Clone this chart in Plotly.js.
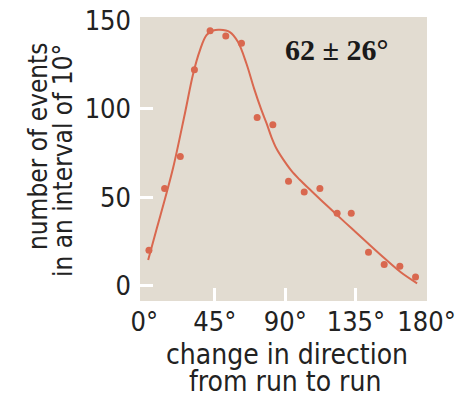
<!DOCTYPE html>
<html>
<head>
<meta charset="utf-8">
<script src="https://cdn.plot.ly/plotly-3.0.1.min.js"></script>
<style>html,body{margin:0;padding:0;background:#fff;}#chart{width:472px;height:397px;}</style>
</head>
<body>
<div id="chart"></div>
<script>
// observed counts per 10° interval
const pointAngles = [3, 13, 23, 32, 42, 52, 62, 72, 82, 92, 102, 112, 123, 132, 143, 153, 163, 173];
const pointCounts = [20, 55, 73, 122, 144, 141, 137, 95, 91, 59, 53, 55, 41, 41, 19, 12, 11, 5];
// fitted curve
const curveAngles = [2.5, 7.9, 13.2, 18.5, 25.9, 31.2, 35.5, 39.7, 44, 48.2, 54.6, 59.8, 65.2, 70, 74.7, 77.9, 81.1, 84.3, 88.5, 93.8, 99, 106.6, 114, 121.4, 132.0, 142.6, 153.2, 163.8, 174.0];
const curveCounts = [14.5, 32.0, 49.0, 66.9, 97.2, 119.8, 133.0, 141.5, 144.2, 144.6, 143.3, 137.7, 125.4, 111.5, 99.3, 92, 84, 77.5, 71.5, 65, 60, 53.5, 47.3, 41.2, 32.6, 24.0, 15.5, 7.5, 1.4];
// ticks
const xTickMarks = [45, 90, 135];
const xTickVals = [0, 45, 90, 135, 180];
const xTickText = ['0°', '45°', '90°', '135°', '180°'];
const yTickMarks = [0, 50, 100];
const yTickVals = [0, 50, 100, 150];
const yTickText = ['0', '50', '100', '150'];

const red = 'rgb(217,104,79)';
const ink = '#222222';
const font = '"DejaVu Sans Condensed", "Open Sans", sans-serif';
const xr = [-2.7, 180.3], yr = [-8.6, 151.8];

const traces = [
  {x: curveAngles, y: curveCounts, mode: 'lines', line: {color: red, width: 2, shape: 'spline', smoothing: 1}, hoverinfo: 'skip'},
  {x: pointAngles, y: pointCounts, mode: 'markers', marker: {color: red, size: 7}},
  {x: [0], y: [0], xaxis: 'x2', yaxis: 'y2', mode: 'markers', marker: {opacity: 0}, hoverinfo: 'skip'}
];

const layout = {
  width: 472, height: 397,
  margin: {l: 140, r: 45, t: 17, b: 96},
  paper_bgcolor: '#ffffff',
  plot_bgcolor: '#e2dcd1',
  showlegend: false,
  xaxis: {range: xr, tickvals: xTickMarks, ticks: 'inside', ticklen: 13, tickwidth: 3, tickcolor: '#ffffff',
          showticklabels: false, showgrid: false, zeroline: false, showline: false},
  yaxis: {range: yr, tickvals: yTickMarks, ticks: 'inside', ticklen: 13, tickwidth: 3, tickcolor: '#ffffff',
          showticklabels: false, showgrid: false, zeroline: false, showline: false},
  xaxis2: {range: xr, overlaying: 'x', anchor: 'y2', side: 'bottom', tickvals: xTickVals, ticktext: xTickText, ticks: '',
           showgrid: false, zeroline: false, showline: false, ticklabelstandoff: 2,
           tickfont: {family: font, size: 27, color: ink}},
  yaxis2: {range: yr, overlaying: 'y', anchor: 'x2', side: 'left', tickvals: yTickVals, ticktext: yTickText, ticks: '',
           showgrid: false, zeroline: false, showline: false, ticklabelstandoff: 8,
           tickfont: {family: font, size: 27, color: ink}},
  annotations: [
    {text: 'number of events', textangle: -90, xref: 'paper', yref: 'paper',
     x: -0.355, y: 0.546, xanchor: 'center', yanchor: 'middle', showarrow: false,
     font: {family: font, size: 26, color: ink}},
    {text: 'in an interval of 10°', textangle: -90, xref: 'paper', yref: 'paper',
     x: -0.268, y: 0.493, xanchor: 'center', yanchor: 'middle', showarrow: false,
     font: {family: font, size: 26, color: ink}},
    {text: 'change in direction', xref: 'paper', yref: 'paper',
     x: 0.512, y: -0.187, xanchor: 'center', yanchor: 'middle', showarrow: false,
     font: {family: font, size: 28, color: ink}},
    {text: 'from run to run', xref: 'paper', yref: 'paper',
     x: 0.505, y: -0.282, xanchor: 'center', yanchor: 'middle', showarrow: false,
     font: {family: font, size: 28, color: ink}},
    {text: '<b>62 ± 26°</b>', xref: 'paper', yref: 'paper', x: 0.683, y: 0.884, xanchor: 'center', yanchor: 'middle',
     showarrow: false, font: {family: '"Liberation Serif", serif', size: 30, color: '#1a1a1a'}}
  ]
};

Plotly.newPlot('chart', traces, layout, {staticPlot: true, displayModeBar: false});
</script>
</body>
</html>
